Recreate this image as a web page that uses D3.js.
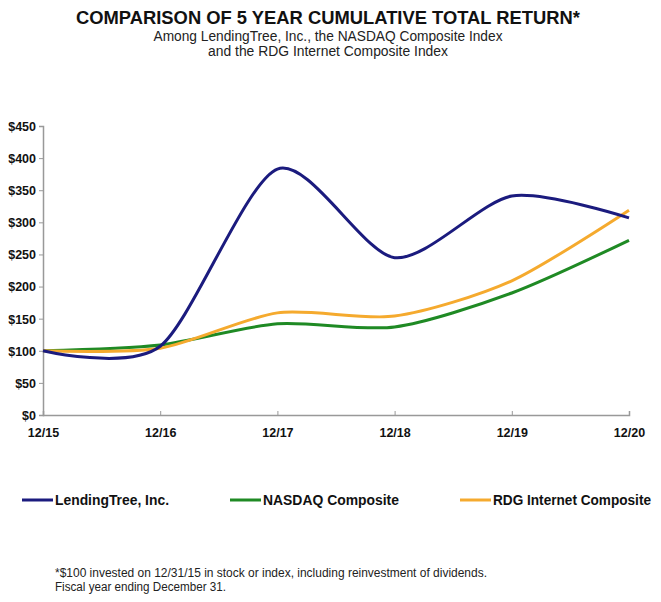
<!DOCTYPE html>
<html>
<head>
<meta charset="utf-8">
<style>
	body { margin:0; background:#fff; }
	text { font-family: "Liberation Sans Narrow", "Arial Narrow", "Liberation Sans", Arial, sans-serif; }
</style>
</head>
<body>
<svg id="chart" width="661" height="602"></svg>
<script src="https://d3js.org/d3.v7.min.js"></script>
<script>
// data
var years = ["12/15", "12/16", "12/17", "12/18", "12/19", "12/20"];
var lendingTree = [100, 107, 383, 245, 341, 307];
var nasdaq = [100, 109, 142, 137, 190, 272];
var rdg = [100, 104, 159, 154, 209, 319];
var yTicks = [0, 50, 100, 150, 200, 250, 300, 350, 400, 450];

var series = [
	{name: "LendingTree, Inc.", values: lendingTree, color: "#1b1b7e", lx: 22, tw: 114},
	{name: "NASDAQ Composite", values: nasdaq, color: "#1f8a24", lx: 230, tw: 136},
	{name: "RDG Internet Composite", values: rdg, color: "#f5aa2e", lx: 460, tw: 158}
];

var svg = d3.select("#chart");

var x = d3.scalePoint().domain(years).range([43, 629]);
var y = d3.scaleLinear().domain([0, 450]).range([415, 126]);

// helper for squeezed text (reference uses a narrow face)
function label(px, py, str, size, width, bold, anchor){
	var t = svg.append("text").attr("x", px).attr("y", py)
		.style("font-size", size + "px").attr("fill", "#111")
		.text(str);
	if (bold) t.style("font-weight", "bold");
	if (anchor) t.attr("text-anchor", anchor);
	if (width) t.attr("textLength", width).attr("lengthAdjust", "spacingAndGlyphs");
	return t;
}

// titles
label(328, 24, "COMPARISON OF 5 YEAR CUMULATIVE TOTAL RETURN*", 19, 504, true, "middle");
label(328, 41, "Among LendingTree, Inc., the NASDAQ  Composite Index", 14, 349, false, "middle").attr("fill", "#222");
label(328, 56, "and the RDG Internet Composite Index", 14, 240, false, "middle").attr("fill", "#222");

// axes
var yAxis = svg.append("g").attr("transform", "translate(43,0)")
	.call(d3.axisLeft(y).tickValues(yTicks).tickSize(4).tickFormat(function(d){ return "$" + d; }));
var xAxis = svg.append("g").attr("transform", "translate(0,415)")
	.call(d3.axisBottom(x).tickSize(-4).tickPadding(10));

[yAxis, xAxis].forEach(function(a){
	a.select(".domain").attr("stroke", "#999").attr("stroke-width", 1.5);
	a.selectAll(".tick line").attr("stroke", "#999");
	a.selectAll("text").style("font-size", "12.5px").style("font-weight", "bold")
		.style("font-family", "'Liberation Sans Narrow', 'Arial Narrow', 'Liberation Sans', sans-serif").attr("fill", "#111");
});
yAxis.selectAll(".tick text").attr("x", -7).attr("dy", "0.35em");
xAxis.selectAll(".tick text").attr("y", 13);

// lines
var line = d3.line()
	.x(function(d, i){ return x(years[i]); })
	.y(function(d){ return y(d); })
	.curve(d3.curveCardinal.tension(0.2));

// draw order: green, orange, navy on top
[series[1], series[2], series[0]].forEach(function(s){
	svg.append("path").datum(s.values)
		.attr("d", line)
		.attr("fill", "none")
		.attr("stroke", s.color)
		.attr("stroke-width", 3);
});

// legend
series.forEach(function(s){
	svg.append("line").attr("x1", s.lx).attr("x2", s.lx + 31).attr("y1", 500).attr("y2", 500)
		.attr("stroke", s.color).attr("stroke-width", 3);
	label(s.lx + 33, 505, s.name, 14, s.tw, true);
});

// footnote
label(55, 577, "*$100 invested on 12/31/15 in stock or index, including reinvestment of dividends.", 12.5, 432).attr("fill", "#222");
label(55, 591, "Fiscal year ending December 31.", 12.5, 171).attr("fill", "#222");
</script>
</body>
</html>
